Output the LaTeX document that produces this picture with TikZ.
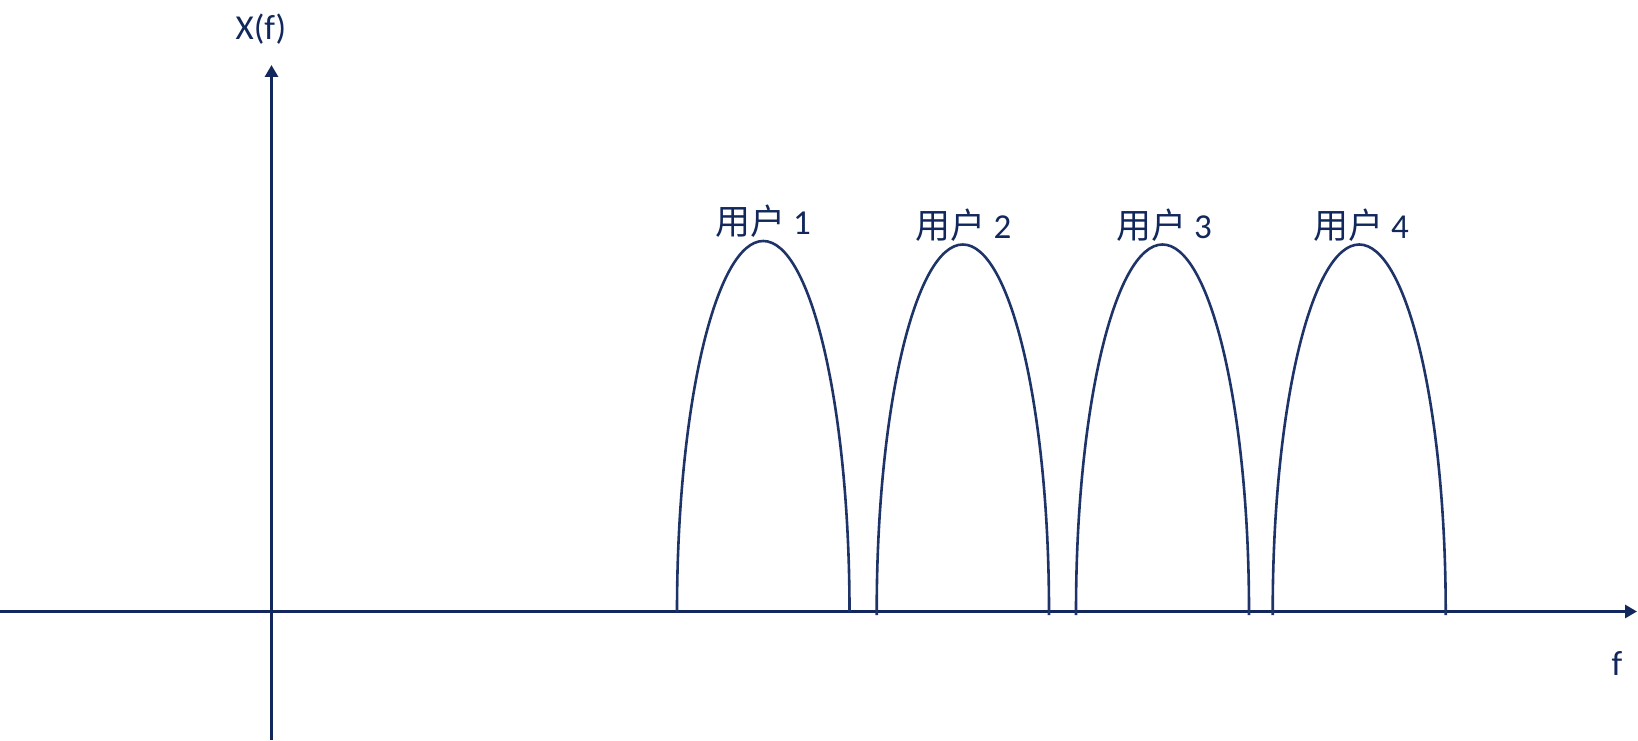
\documentclass[tikz,border=0pt]{standalone}
\usepackage{fontspec}
\setmainfont{Carlito}
\newfontfamily\cjk{Noto Sans CJK SC}
\usetikzlibrary{arrows.meta}
\definecolor{axisc}{RGB}{18,40,92}
\definecolor{humpc}{RGB}{30,52,104}
\begin{document}
\begin{tikzpicture}[x=1pt,y=1pt,
  axisline/.style={draw=axisc,line width=3pt,-{Triangle[width=13pt,length=12pt]}},
  hump/.style={draw=humpc,line width=2.6pt},
  lab/.style={text=axisc,font=\fontsize{35}{42}\selectfont,inner sep=0pt}]
\useasboundingbox (0,0) rectangle (1638,740);
\coordinate (xs) at (0,128.5);
\coordinate (xe) at (1637,128.5);
\coordinate (ys) at (271.5,0);
\coordinate (ye) at (271.5,675);
\draw[axisline] (xs) -- (xe);
\draw[axisline] (ys) -- (ye);
\node[lab] (ylab) at (261,711) {X(f)};
\node[lab] (xlab) at (1617,77) {f};
% humps
\coordinate (h1) at (677,128.5);
\coordinate (h2) at (876.7,125);
\coordinate (h3) at (1076,125);
\coordinate (h4) at (1272.7,125);
\draw[hump] (h1) arc[start angle=180,end angle=0,x radius=86.25,y radius=370.5];
\draw[hump] (h2) -- ++(0,3.5) arc[start angle=180,end angle=0,x radius=86.15,y radius=367] -- ++(0,-3.5);
\draw[hump] (h3) -- ++(0,3.5) arc[start angle=180,end angle=0,x radius=86.5,y radius=367] -- ++(0,-3.5);
\draw[hump] (h4) -- ++(0,3.5) arc[start angle=180,end angle=0,x radius=86.5,y radius=367] -- ++(0,-3.5);
\node[lab] (l1) at (763,519) {{\cjk 用户} 1};
\node[lab] (l2) at (963.5,514.5) {{\cjk 用户} 2};
\node[lab] (l3) at (1164,514.5) {{\cjk 用户} 3};
\node[lab] (l4) at (1361,514.5) {{\cjk 用户} 4};
\end{tikzpicture}
\end{document}
